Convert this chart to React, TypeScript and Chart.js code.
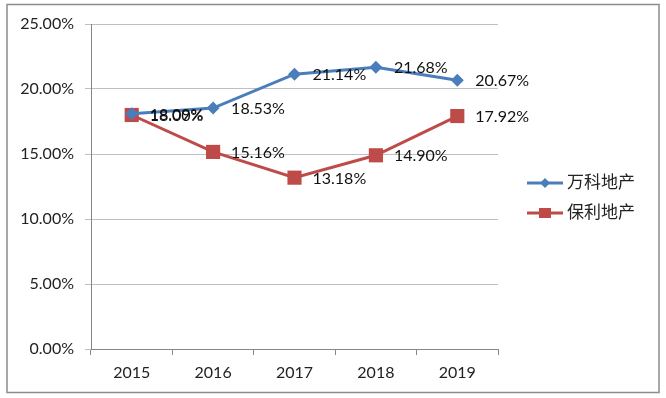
import React, { useEffect, useRef } from "react";
import { Chart, registerables } from "chart.js";

Chart.register(...registerables);

const categories = ["2015", "2016", "2017", "2018", "2019"];
const vankeLabel = "万科地产";
const polyLabel = "保利地产";
const vankeValues = [18.09, 18.53, 21.14, 21.68, 20.67];
const polyValues = [18.0, 15.16, 13.18, 14.9, 17.92];
const yTicks = [0, 5, 10, 15, 20, 25];

const FONT = "Lato, 'Open Sans', 'Noto Sans CJK SC', sans-serif";
const BLUE = "#4A7EBB";
const RED = "#BE4B48";

const frameLabelsLegend = {
  id: "frameLabelsLegend",
  beforeDraw(chart: any) {
    const ctx = chart.ctx;
    ctx.save();
    ctx.fillStyle = "#ffffff";
    ctx.fillRect(0, 0, chart.width, chart.height);
    ctx.strokeStyle = "#8c8c8c";
    ctx.lineWidth = 1.5;
    ctx.strokeRect(7, 4.5, 652, 388);
    ctx.restore();
  },
  afterDatasetsDraw(chart: any) {
    const ctx = chart.ctx;
    ctx.save();
    ctx.font = `16px ${FONT}`;
    ctx.fillStyle = "#111111";
    ctx.textAlign = "left";
    ctx.textBaseline = "middle";
    chart.data.datasets.forEach((ds: any, i: number) => {
      const meta = chart.getDatasetMeta(i);
      meta.data.forEach((pt: any, j: number) => {
        const v = ds.data[j] as number;
        ctx.fillText(v.toFixed(2) + "%", pt.x + 18, pt.y + 1);
      });
    });
    // legend
    const items = chart.data.datasets;
    items.forEach((ds: any, i: number) => {
      const y = 183 + i * 30;
      const x0 = 527;
      const x1 = 563;
      const cx = (x0 + x1) / 2;
      ctx.strokeStyle = ds.borderColor;
      ctx.lineWidth = 3;
      ctx.beginPath();
      ctx.moveTo(x0, y);
      ctx.lineTo(x1, y);
      ctx.stroke();
      ctx.fillStyle = ds.borderColor;
      ctx.beginPath();
      if (ds.pointStyle === "rectRot") {
        const r = 5;
        ctx.moveTo(cx, y - r);
        ctx.lineTo(cx + r, y);
        ctx.lineTo(cx, y + r);
        ctx.lineTo(cx - r, y);
        ctx.closePath();
      } else {
        ctx.rect(cx - 6, y - 5, 12, 10);
      }
      ctx.fill();
      ctx.fillStyle = "#222222";
      ctx.font = `17px ${FONT}`;
      ctx.textBaseline = "middle";
      ctx.fillText(ds.label, 567, y);
    });
    ctx.restore();
  },
};

export default function App() {
  const ref = useRef<HTMLCanvasElement>(null);
  useEffect(() => {
    document.body.style.margin = "0";
    const chart = new Chart(ref.current!, {
      type: "line",
      data: {
        labels: categories,
        datasets: [
          {
            label: vankeLabel,
            data: vankeValues,
            borderColor: BLUE,
            backgroundColor: BLUE,
            borderWidth: 3,
            pointStyle: "rectRot",
            pointRadius: 6.5,
            pointBorderWidth: 0,
            tension: 0,
          },
          {
            label: polyLabel,
            data: polyValues,
            borderColor: RED,
            backgroundColor: RED,
            borderWidth: 3,
            pointStyle: "rect",
            pointRadius: 10,
            pointBorderWidth: 0,
            tension: 0,
          },
        ],
      },
      options: {
        animation: false,
        responsive: false,
        devicePixelRatio: 1,
        layout: { padding: { left: 10, top: 24, right: 168, bottom: 0 } },
        plugins: {
          legend: { display: false },
          tooltip: { enabled: false },
        },
        scales: {
          x: {
            type: "category",
            offset: true,
            grid: {
              offset: true,
              drawOnChartArea: false,
              drawTicks: true,
              tickLength: 6,
              color: "#868686",
            },
            border: { color: "#868686", width: 1 },
            ticks: {
              padding: 8,
              color: "#222222",
              font: { family: FONT, size: 16 },
            },
            afterFit: (s: any) => {
              s.height = 49;
            },
          },
          y: {
            min: 0,
            max: 25,
            afterBuildTicks: (s: any) => {
              s.ticks = yTicks.map((v) => ({ value: v }));
            },
            grid: {
              color: "#bfbfbf",
              drawTicks: true,
              tickLength: 6,
            },
            border: { color: "#868686", width: 1 },
            ticks: {
              padding: 11,
              color: "#222222",
              font: { family: FONT, size: 16 },
              callback: (v: any) => Number(v).toFixed(2) + "%",
            },
            afterFit: (s: any) => {
              s.width = 81;
            },
          },
        },
      },
      plugins: [frameLabelsLegend],
    });
    return () => chart.destroy();
  }, []);
  return (
    <div style={{ width: 666, height: 398 }}>
      <canvas ref={ref} width={666} height={398} style={{ display: "block" }} />
    </div>
  );
}
